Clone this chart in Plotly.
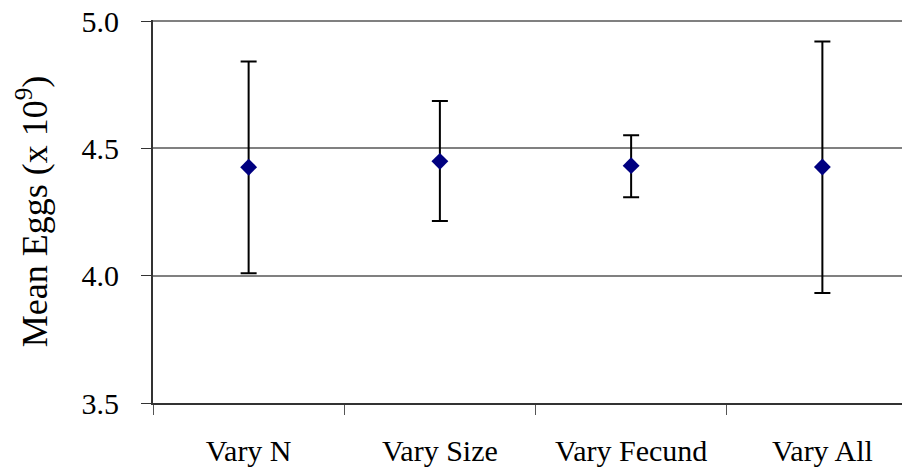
import plotly.graph_objects as go

categories = ["Vary N", "Vary Size", "Vary Fecund", "Vary All"]
mean_eggs = [4.426, 4.449, 4.432, 4.427]
err_plus = [0.415, 0.237, 0.119, 0.493]
err_minus = [0.416, 0.234, 0.124, 0.495]
y_ticks = [3.5, 4.0, 4.5, 5.0]

FONT = "Liberation Serif, Times New Roman, serif"

fig = go.Figure(go.Scatter(
    x=categories,
    y=mean_eggs,
    mode="markers",
    marker=dict(symbol="diamond", size=13, color="#000080"),
    error_y=dict(
        type="data",
        symmetric=False,
        array=err_plus,
        arrayminus=err_minus,
        color="black",
        thickness=2,
        width=8,
    ),
    showlegend=False,
))

# plotly drops the gridline sitting on the top edge, so draw that one by hand
fig.add_hline(y=y_ticks[-1], line=dict(color="#808080", width=1.5), layer="below")

# page body adds an 8px offset, so the plot runs a little past the right edge
fig.update_layout(
    width=910,
    height=474,
    margin=dict(l=145, r=0, t=12, b=79),
    paper_bgcolor="white",
    plot_bgcolor="white",
    font=dict(family=FONT, size=30, color="black"),
)
fig.update_xaxes(
    type="category",
    range=[-0.5, 3.5],
    automargin=False,
    showgrid=False,
    showline=True,
    linecolor="#333333",
    linewidth=2,
    ticks="outside",
    tickson="boundaries",
    ticklen=10,
    tickcolor="#555555",
    ticklabelstandoff=20,
)
fig.update_yaxes(
    range=[3.5, 5.004],
    tickvals=y_ticks,
    tickformat=".1f",
    automargin=False,
    ticklabeloverflow="allow",
    showgrid=True,
    gridcolor="#808080",
    gridwidth=1.5,
    zeroline=False,
    showline=True,
    linecolor="#333333",
    linewidth=2,
    ticks="outside",
    ticklen=10,
    tickcolor="#333333",
    ticklabelstandoff=16,
    title=dict(text="Mean Eggs (x 10<sup>9</sup>)", standoff=23),
)

fig.write_html("out.html")
